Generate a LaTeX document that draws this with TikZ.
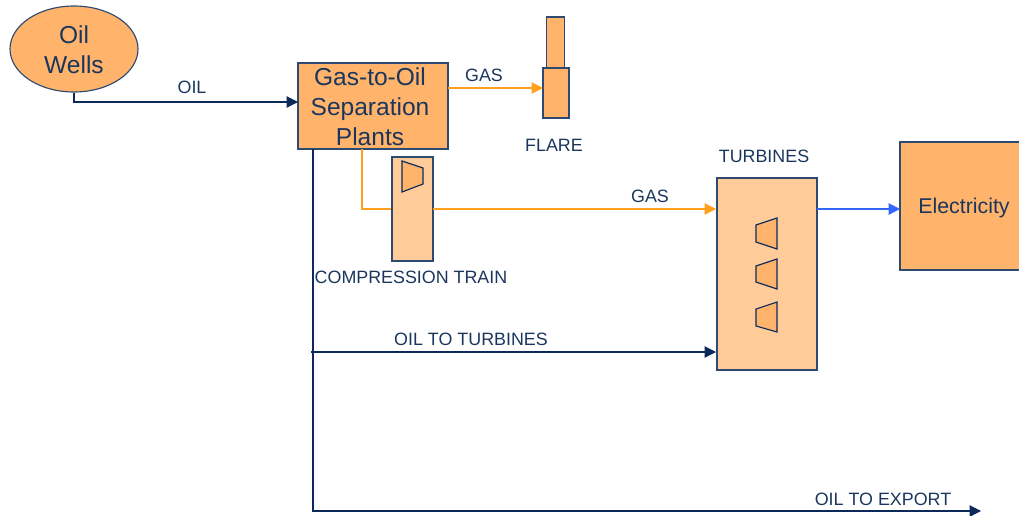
\documentclass[tikz,border=0pt]{standalone}
\usepackage{fontspec}
\setmainfont{Liberation Sans}
\usetikzlibrary{arrows.meta,shapes.geometric}
\definecolor{navyline}{HTML}{0B2A5B}
\definecolor{navytext}{HTML}{1B365D}
\definecolor{boxedge}{HTML}{2F4A70}
\definecolor{plantfill}{HTML}{FFB36B}
\definecolor{trainfill}{HTML}{FFCC99}
\definecolor{gasline}{HTML}{FF9F1C}
\definecolor{powerline}{HTML}{3366FF}
\tikzset{
    plant/.style={draw=boxedge,fill=plantfill,line width=0.85pt,text=navytext,inner sep=0pt},
    train/.style={plant,fill=trainfill},
    biglabel/.style={text=navytext,inner sep=0pt,font=\fontsize{18.4}{22.5}\selectfont,align=center},
    smalllabel/.style={text=navytext,inner sep=0pt,font=\fontsize{13.4}{16}\selectfont},
    oilflow/.style={draw=navyline,line width=0.85pt,-{Triangle[length=8.5pt,width=8.5pt]}},
    gasflow/.style={oilflow,draw=gasline,-{Triangle[length=8.5pt,width=8.5pt,color=gasline]}},
    powerflow/.style={oilflow,draw=powerline,-{Triangle[length=8.5pt,width=8.5pt,color=powerline]}}
}
\begin{document}
\begin{tikzpicture}[x=0.75pt,y=-0.75pt]
    \useasboundingbox (0,0) rectangle (1019,515);
    % sources and plants
    \node[plant,ellipse,minimum width=96pt,minimum height=64.5pt] (wells) at (74,49) {};
    \node[plant,minimum width=112.5pt,minimum height=64.5pt] (sep) at (373,106) {};
    \node[plant,minimum width=13.5pt,minimum height=38.25pt] (flarestack) at (555.5,42.5) {};
    \node[plant,minimum width=19.5pt,minimum height=37.5pt] (flarebase) at (556,93) {};
    \node[train,minimum width=30.75pt,minimum height=78pt] (train) at (412.5,209) {};
    \node[train,minimum width=75pt,minimum height=144pt] (turbines) at (767,274) {};
    \node[plant,minimum width=96pt,minimum height=96pt] (power) at (964,206) {};
    % compressor and turbine stages
    \begin{scope}[draw=navyline,fill=plantfill,line width=0.85pt]
        \filldraw (402,161) -- (423,168) -- (423,184) -- (402,192) -- cycle;
        \filldraw (777,218) -- (756,225) -- (756,242) -- (777,249) -- cycle;
        \filldraw (777,259) -- (756,266) -- (756,282) -- (777,289) -- cycle;
        \filldraw (777,302) -- (756,309) -- (756,326) -- (777,332) -- cycle;
    \end{scope}
    % free ends of the flow lines
    \coordinate (sepin) at (298,102);
    \coordinate (gasout) at (448,88);
    \coordinate (flarein) at (543,88);
    \coordinate (sepgas) at (362,149);
    \coordinate (trainout) at (433,209);
    \coordinate (turbgas) at (716,209);
    \coordinate (turbout) at (817,209);
    \coordinate (powerin) at (900,209);
    \coordinate (sepoil) at (313,149);
    \coordinate (tapoil) at (311,352);
    \coordinate (turboil) at (716,352);
    \coordinate (export) at (981,511);
    % flows
    \draw[oilflow] (wells.south) |- (sepin);
    \draw[gasflow] (gasout) -- (flarein);
    \draw[gasline,line width=0.85pt] (sepgas) |- (train.west);
    \draw[gasflow] (trainout) -- (turbgas);
    \draw[powerflow] (turbout) -- (powerin);
    \draw[oilflow] (tapoil) -- (turboil);
    \draw[oilflow] (sepoil) |- (export);
    % labels
    \node[biglabel] (wellslabel) at (74,50) {Oil\\Wells};
    \node[biglabel] (seplabel) at (370,107) {Gas-to-Oil\\Separation\\Plants};
    \node[text=navytext,inner sep=0pt,font=\fontsize{16}{20}\selectfont] (powerlabel) at (964,208) {Electricity};
    \node[smalllabel] (oillabel) at (192,87) {OIL};
    \node[smalllabel] (gaslabel) at (484,75) {GAS};
    \node[smalllabel] (flarelabel) at (554,145) {FLARE};
    \node[smalllabel] (trainlabel) at (411,277) {COMPRESSION TRAIN};
    \node[smalllabel] (turbgaslabel) at (650,196) {GAS};
    \node[smalllabel] (turblabel) at (764,156) {TURBINES};
    \node[smalllabel] (turboillabel) at (471,339) {OIL TO TURBINES};
    \node[smalllabel] (exportlabel) at (883,499) {OIL TO EXPORT};
\end{tikzpicture}
\end{document}
